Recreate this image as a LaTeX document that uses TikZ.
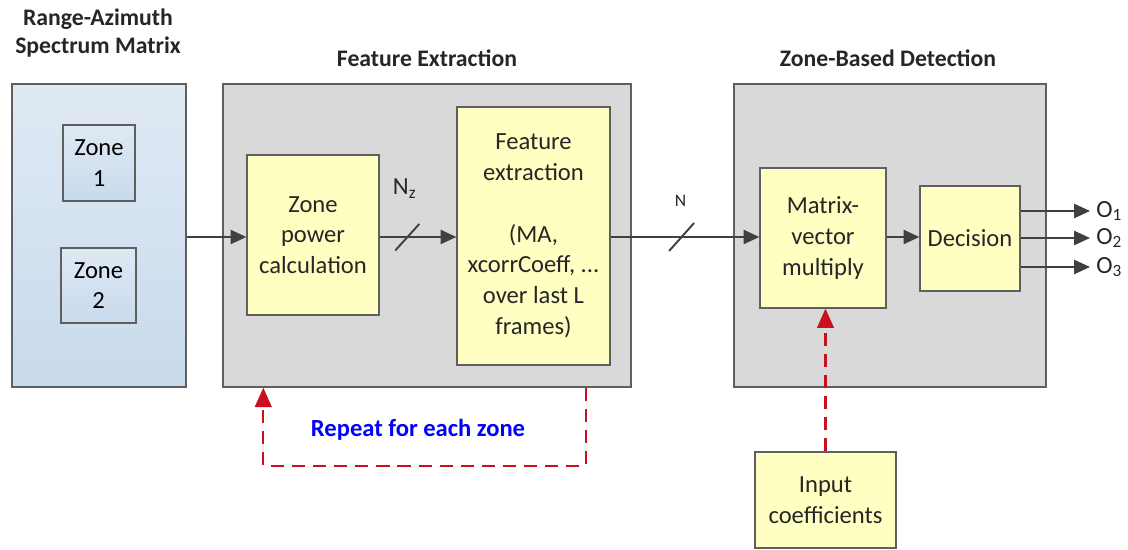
\documentclass[tikz,border=0pt]{standalone}
\usepackage{fontspec}
\setmainfont{Carlito}
\usepackage{tikz}
\usetikzlibrary{arrows.meta,positioning,calc}

\definecolor{panelgray}{RGB}{217,217,217}
\definecolor{edgegray}{RGB}{95,95,95}
\definecolor{arrowgray}{RGB}{64,64,64}
\definecolor{blocky}{RGB}{255,255,194}
\definecolor{bluetop}{RGB}{223,233,244}
\definecolor{bluebot}{RGB}{200,218,236}
\definecolor{loopred}{RGB}{200,16,30}

\begin{document}
\begin{tikzpicture}[
    font=\fontsize{14}{17.5}\selectfont,
    panel/.style={rectangle, draw=edgegray, line width=0.8pt, fill=panelgray, minimum height=6.06cm},
    spectrum/.style={rectangle, draw=edgegray, line width=0.8pt, top color=bluetop, bottom color=bluebot, align=center},
    block/.style={rectangle, draw=edgegray, line width=0.7pt, fill=blocky, align=center, text=black!85},
    title/.style={font=\fontsize{13.5}{15.5}\selectfont\bfseries, align=center, text=black!85},
    arrow/.style={-{Triangle[length=9pt,width=8pt]}, line width=1.2pt, draw=arrowgray},
    feedback/.style={-{Triangle[length=11pt,width=9.5pt]}, line width=1.2pt, draw=loopred, dash pattern=on 7.5pt off 4.5pt},
    busmark/.style={line width=1.1pt, draw=arrowgray}
]
    \useasboundingbox (0,0) rectangle (22.56,-11.0);

    % Panels
    \node[spectrum, minimum width=3.48cm, minimum height=6.06cm] (spec) at (1.98,-4.71) {};
    \node[panel, minimum width=8.16cm] (fep) at (8.54,-4.71) {};
    \node[panel, minimum width=6.24cm] (zbd) at (17.8,-4.71) {};

    % Titles
    \node[title] at (1.96,-0.66) {Range-Azimuth\\Spectrum Matrix};
    \node[title] at (8.54,-1.16) {Feature Extraction};
    \node[title] at (17.76,-1.16) {Zone-Based Detection};

    % Zones
    \node[spectrum, line width=0.7pt, minimum width=1.44cm, minimum height=1.52cm] (zone1) at (1.98,-3.26) {Zone\\1};
    \node[spectrum, line width=0.7pt, minimum width=1.5cm, minimum height=1.5cm] (zone2) at (1.97,-5.71) {Zone\\2};

    % Blocks
    \node[block, minimum width=2.64cm, minimum height=3.2cm] (power) at (6.26,-4.70) {Zone\\power\\calculation};
    \node[block, minimum width=3.06cm, minimum height=5.16cm] (feat) at (10.67,-4.72)
        {Feature\\extraction\\[17.5pt](MA,\\xcorrCoeff, ...\\over last L\\frames)};
    \node[block, minimum width=2.52cm, minimum height=2.8cm] (mvm) at (16.46,-4.76) {Matrix-\\vector\\multiply};
    \node[block, minimum width=2.0cm, minimum height=2.1cm] (decision) at (19.4,-4.77) {Decision};
    \node[block, minimum width=2.82cm, minimum height=1.92cm] (coeff) at (16.51,-10.0) {Input\\coefficients};

    % Outputs
    \coordinate (o1) at (21.8,-4.22);
    \coordinate (o2) at (21.8,-4.76);
    \coordinate (o3) at (21.8,-5.34);
    \node[right=0.12cm of o1, inner sep=0pt, text=black!85] (lo1) {O\textsubscript{1}};
    \node[right=0.12cm of o2, inner sep=0pt, text=black!85] (lo2) {O\textsubscript{2}};
    \node[right=0.12cm of o3, inner sep=0pt, text=black!85] (lo3) {O\textsubscript{3}};

    % Arrows
    \draw[arrow] (spec.east |- 0,-4.74) -- (power.west |- 0,-4.74);
    \draw[arrow] (power.east |- 0,-4.74) -- coordinate[pos=0.36] (nzmid) (feat.west |- 0,-4.74);
    \draw[arrow] (feat.east |- 0,-4.74) -- coordinate[pos=0.477] (nmid) (mvm.west |- 0,-4.74);
    \draw[arrow] (mvm.east |- 0,-4.74) -- (decision.west |- 0,-4.74);
    \draw[arrow] (decision.east |- o1) -- (o1);
    \draw[arrow] (decision.east |- o2) -- (o2);
    \draw[arrow] (decision.east |- o3) -- (o3);

    % Bus widths
    \draw[busmark] ($(nzmid)+(-0.24,-0.27)$) -- ++(0.48,0.53);
    \draw[busmark] ($(nmid)+(-0.25,-0.28)$) -- ++(0.5,0.56);
    \node[text=black!85] at ($(nzmid)+(-0.05,0.96)$) {N\textsubscript{z}};
    \node[font=\fontsize{10}{12}\selectfont, text=black!85] at ($(nmid)+(-0.02,0.72)$) {N};

    % Feedback
    \coordinate (loopR) at ($(fep.south east)+(-0.92,0)$);
    \coordinate (loopL) at ($(fep.south west)+(0.82,0)$);
    \draw[feedback] (loopR) -- ++(0,-1.56) -| (loopL);
    \node[font=\fontsize{14}{17}\selectfont\bfseries, text=blue] at (8.36,-8.6) {Repeat for each zone};
    \draw[feedback] (coeff.north) -- (coeff.north |- mvm.south);
\end{tikzpicture}
\end{document}
